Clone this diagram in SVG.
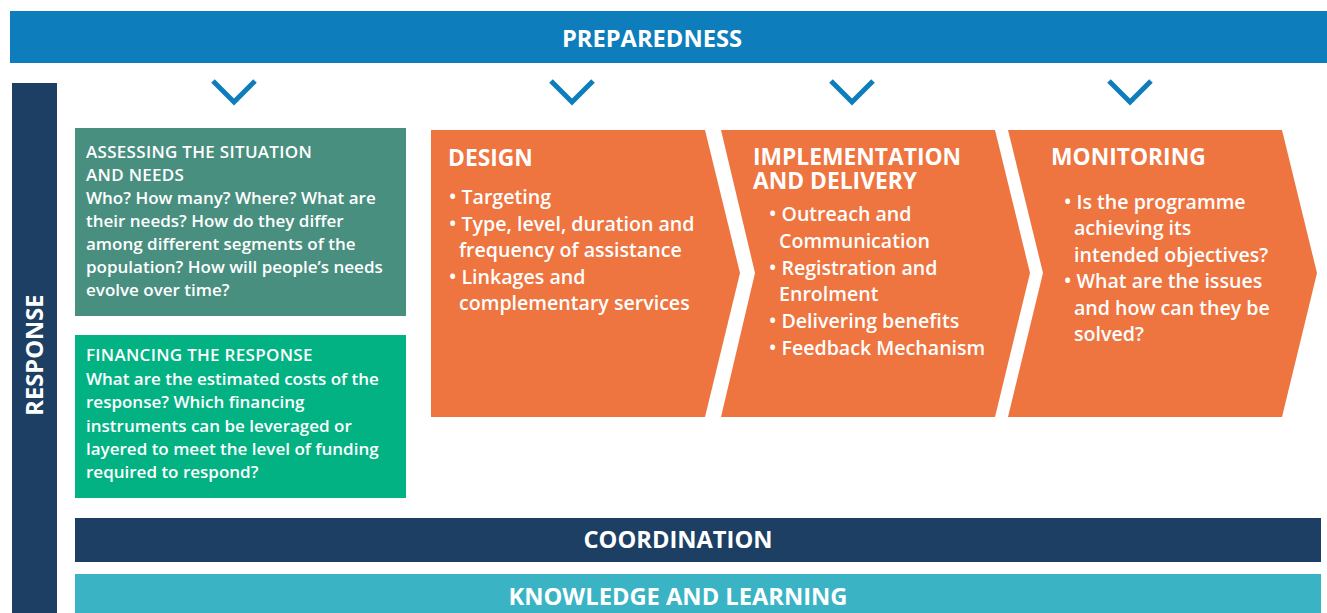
<svg xmlns="http://www.w3.org/2000/svg" width="1327" height="613" viewBox="0 0 1327 613">
<style>
.bar{font-family:"Open Sans","Liberation Sans",sans-serif;font-weight:700;font-size:23.7px;fill:#fff}
.box{font-family:"Open Sans","Liberation Sans",sans-serif;font-weight:600;font-size:17px;fill:#fff}
.cap{letter-spacing:0.3px}
.hd{font-family:"Open Sans","Liberation Sans",sans-serif;font-weight:700;font-size:22.8px;fill:#fff}
.bl{font-family:"Open Sans","Liberation Sans",sans-serif;font-weight:600;font-size:19.6px;fill:#fff}
.chev{fill:none;stroke:#0e7dbb;stroke-width:5}
.orange{fill:#ee7440}
</style>
<rect width="1327" height="613" fill="#fff"/>
<g id="preparedness">
<rect x="10" y="11" width="1317" height="52" fill="#0e7dbb"/>
<text class="bar" x="652" y="47" text-anchor="middle">PREPAREDNESS</text>
</g>
<g id="connectors">
<polyline class="chev" points="213,81 234,102 255,81"/>
<polyline class="chev" points="551,81 572,102 593,81"/>
<polyline class="chev" points="831,81 852,102 873,81"/>
<polyline class="chev" points="1109,81 1130,102 1151,81"/>
</g>
<g id="response">
<rect x="12" y="83" width="45" height="530" fill="#1c3f63"/>
<text class="bar" transform="translate(43,355) rotate(-90)" text-anchor="middle">RESPONSE</text>
</g>
<g id="assessing">
<rect x="75" y="128" width="331" height="188" fill="#488f7f"/>
<text class="box cap" x="86" y="158">ASSESSING THE SITUATION</text>
<text class="box cap" x="86" y="181">AND NEEDS</text>
<text class="box" x="86" y="204">Who? How many? Where? What are</text>
<text class="box" x="86" y="227">their needs? How do they differ</text>
<text class="box" x="86" y="250">among different segments of the</text>
<text class="box" x="86" y="273">population? How will people’s needs</text>
<text class="box" x="86" y="296">evolve over time?</text>
</g>
<g id="financing">
<rect x="75" y="335" width="331" height="163" fill="#02b283"/>
<text class="box cap" x="86" y="361">FINANCING THE RESPONSE</text>
<text class="box" x="86" y="385">What are the estimated costs of the</text>
<text class="box" x="86" y="408">response? Which financing</text>
<text class="box" x="86" y="432">instruments can be leveraged or</text>
<text class="box" x="86" y="455">layered to meet the level of funding</text>
<text class="box" x="86" y="478">required to respond?</text>
</g>
<g id="design">
<polygon class="orange" points="431,130 705,130 740,273 705,417 431,417"/>
<text class="hd" x="448" y="166">DESIGN</text>
<text class="bl" x="449" y="204">• Targeting</text>
<text class="bl" x="449" y="231">• Type, level, duration and</text>
<text class="bl" x="459" y="257">frequency of assistance</text>
<text class="bl" x="449" y="284">• Linkages and</text>
<text class="bl" x="459" y="310">complementary services</text>
</g>
<g id="implementation">
<polygon class="orange" points="721,130 995,130 1030,273 995,417 721,417 755,273"/>
<text class="hd"><tspan x="753" y="165">IMPLEMENTATION</tspan><tspan x="753" y="189">AND DELIVERY</tspan></text>
<text class="bl" x="769" y="221">• Outreach and</text>
<text class="bl" x="779" y="248">Communication</text>
<text class="bl" x="769" y="275">• Registration and</text>
<text class="bl" x="779" y="301">Enrolment</text>
<text class="bl" x="769" y="328">• Delivering benefits</text>
<text class="bl" x="769" y="355">• Feedback Mechanism</text>
</g>
<g id="monitoring">
<polygon class="orange" points="1008,130 1282,130 1317,273 1282,417 1008,417 1043,273"/>
<text class="hd" x="1051" y="165">MONITORING</text>
<text class="bl" x="1064" y="209">• Is the programme</text>
<text class="bl" x="1074" y="235">achieving its</text>
<text class="bl" x="1074" y="262">intended objectives?</text>
<text class="bl" x="1064" y="288">• What are the issues</text>
<text class="bl" x="1074" y="315">and how can they be</text>
<text class="bl" x="1074" y="341">solved?</text>
</g>
<g id="coordination">
<rect x="75" y="518" width="1246" height="44" fill="#1c3f63"/>
<text class="bar" x="678" y="548" text-anchor="middle">COORDINATION</text>
</g>
<g id="knowledge">
<rect x="75" y="574" width="1246" height="39" fill="#3ab3c5"/>
<text class="bar" x="678" y="605" text-anchor="middle">KNOWLEDGE AND LEARNING</text>
</g>
</svg>
